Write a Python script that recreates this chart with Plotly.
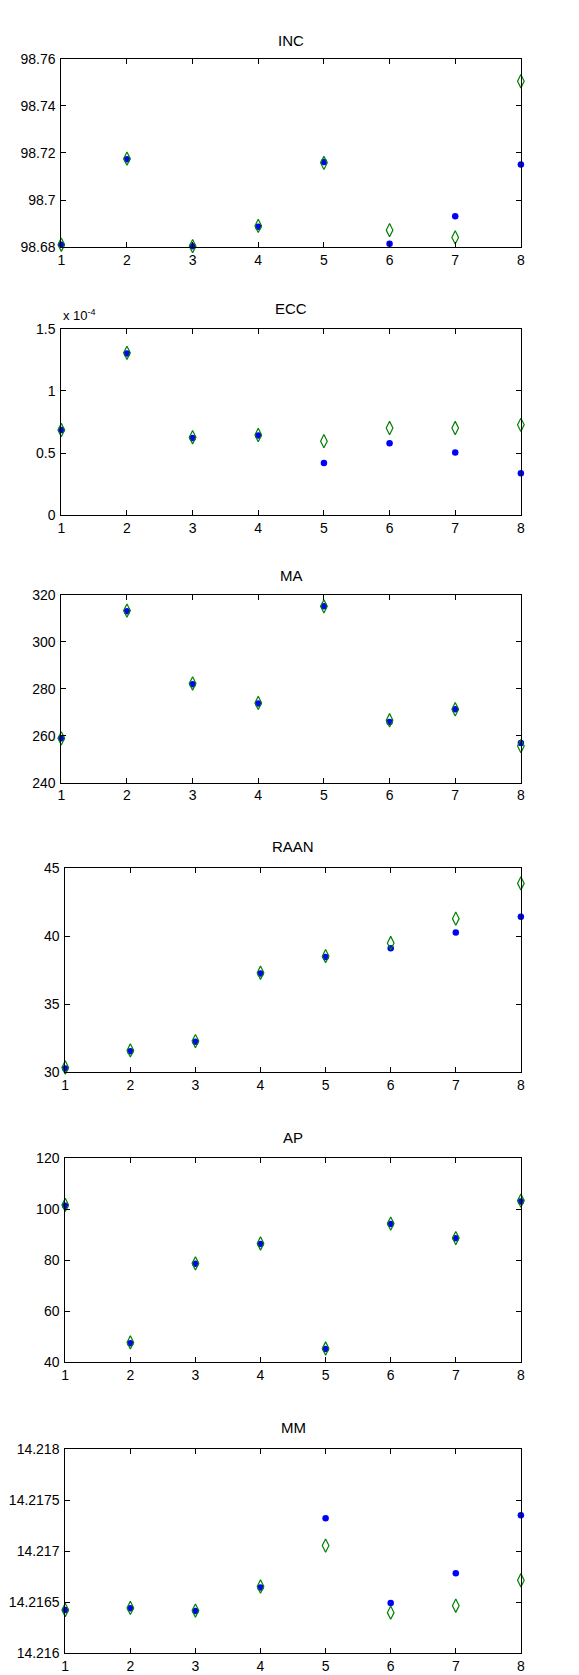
import plotly.graph_objects as go

W, H = 579, 1675

x = [1, 2, 3, 4, 5, 6, 7, 8]

inc_est = [98.681, 98.7173, 98.6803, 98.6886, 98.7162, 98.6814, 98.6931, 98.7151]
inc_ref = [98.681, 98.7176, 98.6804, 98.6890, 98.7158, 98.6872, 98.6841, 98.7505]

ecc_est = [0.685e-4, 1.301e-4, 0.621e-4, 0.640e-4, 0.419e-4, 0.579e-4, 0.504e-4, 0.337e-4]
ecc_ref = [0.685e-4, 1.306e-4, 0.627e-4, 0.645e-4, 0.595e-4, 0.701e-4, 0.701e-4, 0.727e-4]

ma_est = [258.9, 313.1, 282.0, 273.7, 315.2, 265.9, 271.3, 256.9]
ma_ref = [258.9, 313.4, 282.3, 274.0, 315.2, 266.6, 271.3, 255.6]

raan_est = [30.24, 31.51, 32.22, 37.26, 38.47, 39.11, 40.28, 41.44]
raan_ref = [30.32, 31.58, 32.27, 37.31, 38.53, 39.50, 41.30, 43.90]

ap_est = [101.4, 47.5, 78.6, 86.4, 45.2, 94.2, 88.6, 103.1]
ap_ref = [101.7, 47.8, 78.8, 86.6, 45.4, 94.4, 88.7, 103.4]

mm_est = [14.216422, 14.216438, 14.216412, 14.216643, 14.217325, 14.216490, 14.216782, 14.217354]
mm_ref = [14.216422, 14.216442, 14.216416, 14.216653, 14.217055, 14.216396, 14.216464, 14.216714]

titles = ["INC", "ECC", "MA", "RAAN", "AP", "MM"]

inc_ticks = [98.68, 98.70, 98.72, 98.74, 98.76]
inc_text = ["98.68", "98.7", "98.72", "98.74", "98.76"]
ecc_ticks = [0, 0.5e-4, 1.0e-4, 1.5e-4]
ecc_text = ["0", "0.5", "1", "1.5"]
ma_ticks = [240, 260, 280, 300, 320]
ma_text = ["240", "260", "280", "300", "320"]
raan_ticks = [30, 35, 40, 45]
raan_text = ["30", "35", "40", "45"]
ap_ticks = [40, 60, 80, 100, 120]
ap_text = ["40", "60", "80", "100", "120"]
mm_ticks = [14.216, 14.2165, 14.217, 14.2175, 14.218]
mm_text = ["14.216", "14.2165", "14.217", "14.2175", "14.218"]

series = [
    (inc_est, inc_ref, inc_ticks, inc_text),
    (ecc_est, ecc_ref, ecc_ticks, ecc_text),
    (ma_est, ma_ref, ma_ticks, ma_text),
    (raan_est, raan_ref, raan_ticks, raan_text),
    (ap_est, ap_ref, ap_ticks, ap_text),
    (mm_est, mm_ref, mm_ticks, mm_text),
]

# pixel layout of each panel box: left, right, top, bottom, title y
boxes = [
    (50, 516, 43.3, 233.3, 25),
    (50, 516, 315.7, 504.0, 295),
    (50, 516, 584.7, 774.0, 565),
    (54, 516, 860.7, 1066.0, 839),
    (54, 516, 1153.3, 1359.3, 1132),
    (54, 516, 1447.3, 1652.7, 1425),
]

FONT = "Liberation Sans, Arial, sans-serif"
fig = go.Figure()
layout = dict(
    width=W, height=H, margin=dict(l=0, r=0, t=0, b=0),
    paper_bgcolor="white", plot_bgcolor="white", showlegend=False,
    font=dict(family=FONT, size=14, color="black"),
)
annotations = []

for i, ((est, ref, tv, tt), (l, r, t, b, ty)) in enumerate(zip(series, boxes)):
    n = "" if i == 0 else str(i + 1)
    fig.add_trace(go.Scatter(
        x=x, y=est, mode="markers", xaxis="x" + n, yaxis="y" + n,
        marker=dict(symbol="circle", size=6.5, color="rgb(0,0,255)"),
        cliponaxis=False))
    fig.add_trace(go.Scatter(
        x=x, y=ref, mode="markers", xaxis="x" + n, yaxis="y" + n,
        marker=dict(symbol="diamond-tall-open", size=9.5, color="rgb(0,128,0)",
                    line=dict(width=1.2, color="rgb(0,128,0)")),
        cliponaxis=False))
    common = dict(showgrid=False, zeroline=False, showline=True, linecolor="black",
                  linewidth=1, mirror="ticks", ticks="inside", ticklen=5,
                  tickcolor="black", tickfont=dict(family=FONT, size=14, color="black"))
    layout["xaxis" + n] = dict(
        domain=[l / W, r / W], anchor="y" + n, range=[1, 8],
        tickvals=x, ticktext=[str(v) for v in x], **common)
    layout["yaxis" + n] = dict(
        domain=[1 - b / H, 1 - t / H], anchor="x" + n, range=[tv[0], tv[-1]],
        tickvals=tv, ticktext=tt, ticklabelstandoff=2, **common)
    annotations.append(dict(
        text=titles[i], x=(l + r) / 2 / W, y=1 - ty / H, xref="paper", yref="paper",
        xanchor="center", yanchor="middle", showarrow=False,
        font=dict(family=FONT, size=15, color="black")))

annotations.append(dict(
    text="x 10<sup>-4</sup>", x=50 / W, y=1 - 302 / H, xref="paper", yref="paper",
    xanchor="left", yanchor="middle", showarrow=False,
    font=dict(family=FONT, size=13, color="black")))

layout["annotations"] = annotations
fig.update_layout(**layout)
fig.write_html("out.html")
